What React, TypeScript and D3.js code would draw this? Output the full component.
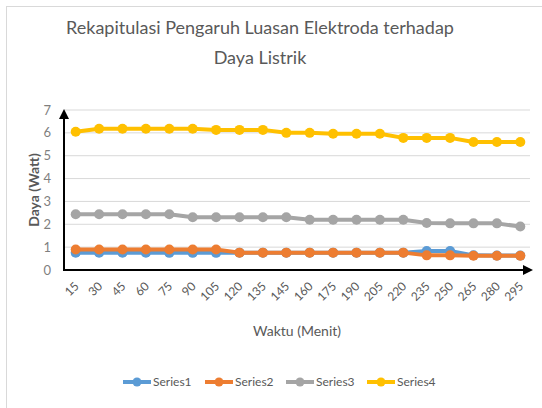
import { useRef, useEffect } from "react";
import * as d3 from "d3";

const categories = ["15", "30", "45", "60", "75", "90", "105", "120", "135", "145", "160", "175", "190", "205", "220", "235", "250", "265", "280", "295"];
const series1 = [0.76, 0.76, 0.76, 0.76, 0.75, 0.75, 0.75, 0.76, 0.76, 0.76, 0.76, 0.76, 0.76, 0.76, 0.76, 0.83, 0.83, 0.64, 0.63, 0.63];
const series2 = [0.9, 0.9, 0.9, 0.9, 0.9, 0.9, 0.9, 0.76, 0.76, 0.76, 0.76, 0.76, 0.76, 0.76, 0.76, 0.64, 0.64, 0.62, 0.62, 0.62];
const series3 = [2.44, 2.44, 2.44, 2.44, 2.44, 2.31, 2.31, 2.31, 2.31, 2.31, 2.2, 2.2, 2.2, 2.2, 2.2, 2.06, 2.04, 2.04, 2.04, 1.9];
const series4 = [6.05, 6.18, 6.18, 6.18, 6.18, 6.18, 6.13, 6.13, 6.13, 6.0, 6.0, 5.96, 5.96, 5.96, 5.78, 5.78, 5.78, 5.6, 5.6, 5.6];
const yTicks = [0, 1, 2, 3, 4, 5, 6, 7];
const seriesNames = ["Series1", "Series2", "Series3", "Series4"];
const colors = ["#5B9BD5", "#ED7D31", "#A5A5A5", "#FFC000"];

export default function App() {
  const svgRef = useRef<SVGSVGElement>(null);

  useEffect(() => {
    const svg = d3.select(svgRef.current);
    svg.selectAll("*").remove();
    const font = "Lato, 'Open Sans', sans-serif";
    const textColor = "#595959";

    svg.append("rect")
      .attr("x", 6.5).attr("y", 6.5).attr("width", 540).attr("height", 410)
      .attr("fill", "white").attr("stroke", "#d9d9d9");

    const left = 64, right = 532, top = 110, bottom = 270;
    const x = d3.scaleBand().domain(categories).range([left, right]);
    const y = d3.scaleLinear().domain([0, 7]).range([bottom, top]);

    // title
    const title = svg.append("text").attr("text-anchor", "middle")
      .attr("font-family", font).attr("font-size", 18).attr("fill", textColor);
    title.append("tspan").attr("x", 260).attr("y", 34).text("Rekapitulasi Pengaruh Luasan Elektroda terhadap");
    title.append("tspan").attr("x", 260).attr("y", 64).text("Daya Listrik");

    // gridlines
    svg.append("g").selectAll("line").data(yTicks.slice(1)).join("line")
      .attr("x1", left).attr("x2", right - 2)
      .attr("y1", (d) => y(d)).attr("y2", (d) => y(d))
      .attr("stroke", "#d9d9d9").attr("stroke-width", 1);

    // y tick labels
    svg.append("g").selectAll("text").data(yTicks).join("text")
      .attr("x", 51).attr("y", (d) => y(d)).attr("dy", "0.35em")
      .attr("text-anchor", "end").attr("font-family", font).attr("font-size", 13)
      .attr("fill", "#7f7f7f").text((d) => d);

    // x tick labels
    svg.append("g").selectAll("text").data(categories).join("text")
      .attr("transform", (d) => `translate(${x(d)! + x.bandwidth() / 2 + 1},${bottom + 14}) rotate(-45)`)
      .attr("text-anchor", "end").attr("dy", "0.35em")
      .attr("font-family", font).attr("font-size", 12).attr("fill", textColor)
      .text((d) => d);

    // axis titles
    svg.append("text").attr("x", 297).attr("y", 336).attr("text-anchor", "middle")
      .attr("font-family", font).attr("font-size", 14).attr("fill", textColor)
      .text("Waktu (Menit)");
    svg.append("text").attr("transform", `translate(39,${(top + bottom) / 2}) rotate(-90)`)
      .attr("text-anchor", "middle").attr("font-family", font).attr("font-size", 14)
      .attr("font-weight", "bold").attr("fill", textColor).text("Daya (Watt)");

    // series
    const allSeries = [series1, series2, series3, series4];
    const line = d3.line<number>()
      .x((_, i) => x(categories[i])! + x.bandwidth() / 2)
      .y((d) => y(d));
    allSeries.forEach((s, k) => {
      const g = svg.append("g");
      g.append("path").datum(s).attr("d", line).attr("fill", "none")
        .attr("stroke", colors[k]).attr("stroke-width", 4).attr("stroke-linejoin", "round");
      g.selectAll("circle").data(s).join("circle")
        .attr("cx", (_, i) => x(categories[i])! + x.bandwidth() / 2)
        .attr("cy", (d) => y(d)).attr("r", 5).attr("fill", colors[k]);
    });

    // axes with arrows
    const defs = svg.append("defs");
    defs.append("marker").attr("id", "arrow").attr("viewBox", "0 0 10 10")
      .attr("refX", 5).attr("refY", 5).attr("markerWidth", 5).attr("markerHeight", 5)
      .attr("orient", "auto-start-reverse")
      .append("path").attr("d", "M0,0L10,5L0,10z").attr("fill", "black");
    svg.append("line").attr("x1", left).attr("x2", left).attr("y1", bottom).attr("y2", top + 4)
      .attr("stroke", "black").attr("stroke-width", 2).attr("marker-end", "url(#arrow)");
    svg.append("line").attr("x1", left - 1).attr("x2", right - 4).attr("y1", bottom).attr("y2", bottom)
      .attr("stroke", "black").attr("stroke-width", 2).attr("marker-end", "url(#arrow)");

    // legend
    const legendX = [123, 205, 286, 367];
    const leg = svg.append("g").selectAll("g").data(seriesNames).join("g")
      .attr("transform", (_, i) => `translate(${legendX[i]},382)`);
    leg.append("line").attr("x1", 0).attr("x2", 28).attr("stroke", (_, i) => colors[i]).attr("stroke-width", 4);
    leg.append("circle").attr("cx", 14).attr("r", 4.5).attr("fill", (_, i) => colors[i]);
    leg.append("text").attr("x", 30).attr("dy", "0.35em").attr("font-family", font)
      .attr("font-size", 12).attr("fill", textColor).text((d) => d);
  }, []);

  return (
    <svg ref={svgRef} width={542} height={408}
      style={{ display: "block", position: "absolute", left: 0, top: 0 }}></svg>
  );
}
